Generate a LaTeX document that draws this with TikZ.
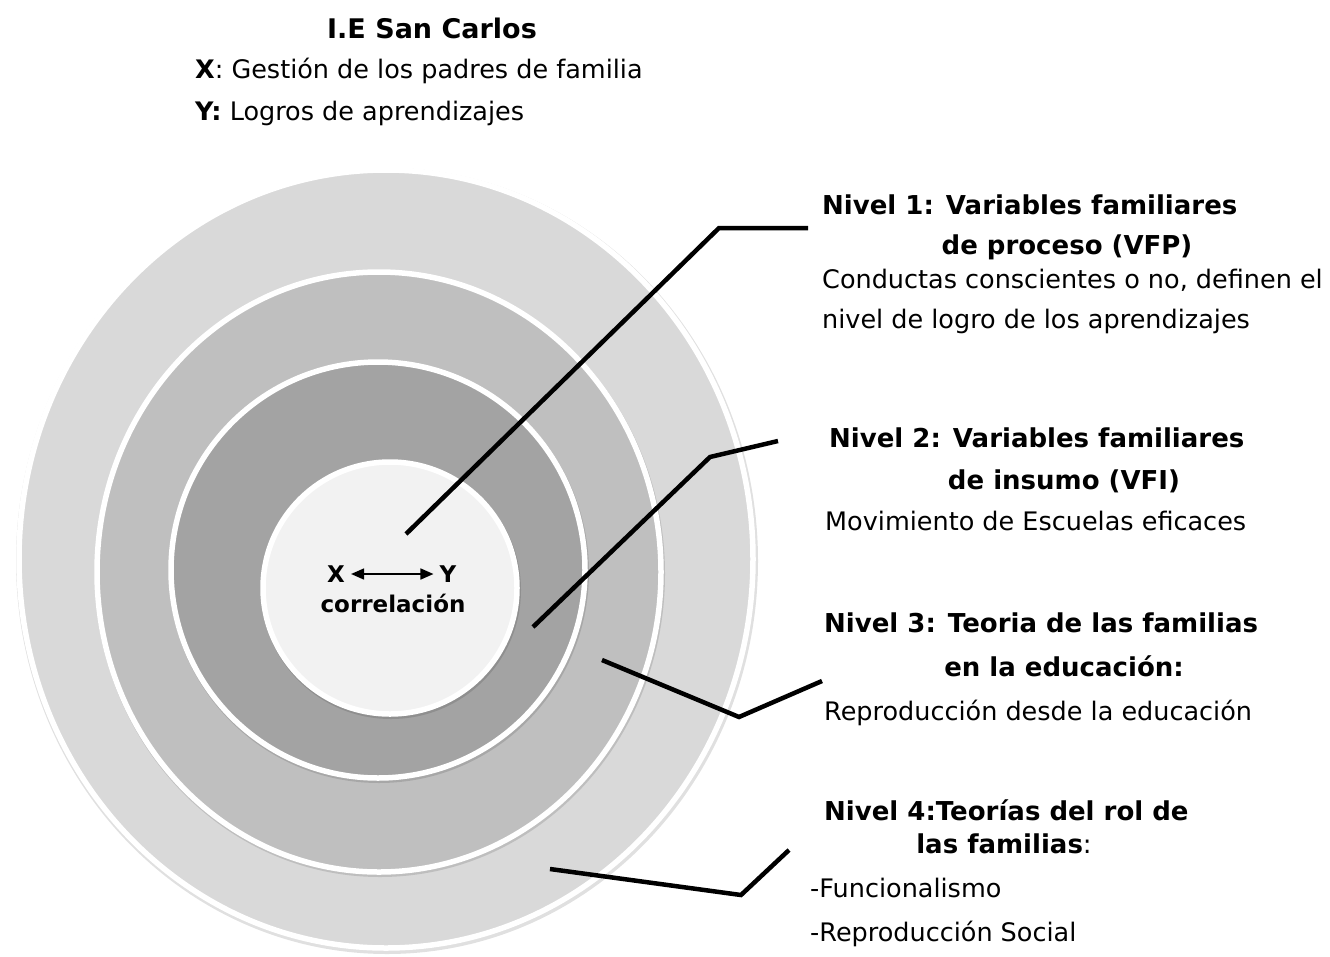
\documentclass[tikz,border=0pt]{standalone}
\usepackage{fontspec}
\setmainfont{DejaVu Sans}
\usetikzlibrary{arrows.meta}
\definecolor{ringA}{HTML}{D9D9D9}
\definecolor{ringB}{HTML}{BFBFBF}
\definecolor{ringC}{HTML}{A3A3A3}
\definecolor{ringD}{HTML}{F2F2F2}
\tikzset{
  ringfill/.style={draw=white, line width=5.5pt},
  ringshadow/.style={fill=black, opacity=0.12},
  leader/.style={line width=4.5pt, black, line join=miter, line cap=butt},
  reg/.style={anchor=base west, inner sep=0pt, font=\fontsize{25.5}{30}\selectfont},
  hd/.style={anchor=base west, inner sep=0pt, font=\fontsize{26}{30}\selectfont\bfseries},
  hdc/.style={anchor=base, inner sep=0pt, font=\fontsize{26}{30}\selectfont\bfseries},
  ctr/.style={anchor=base, inner sep=2pt, font=\fontsize{23}{28}\selectfont\bfseries},
  ctrxy/.style={anchor=base, inner sep=6pt, font=\fontsize{23}{28}\selectfont\bfseries}
}
\begin{document}
\begin{tikzpicture}[x=1pt,y=-1pt]
\useasboundingbox (0,0) rectangle (1330,956);
\fill[white] (0,0) rectangle (1330,956);

% rings
\fill[ringshadow] (387,561) ellipse [x radius=371, y radius=393];
\filldraw[ringfill, fill=ringA] (386,559) ellipse [x radius=367, y radius=389];
\fill[ringshadow] (380,574) ellipse [x radius=285, y radius=303];
\filldraw[ringfill, fill=ringB] (379,572) ellipse [x radius=282, y radius=300];
\fill[ringshadow] (379,572) ellipse [x radius=210, y radius=211];
\filldraw[ringfill, fill=ringC] (378,570) ellipse [x radius=207, y radius=208];
\fill[ringshadow] (391,590) ellipse [x radius=130, y radius=129];
\filldraw[ringfill, fill=ringD] (390,588) ellipse [x radius=127, y radius=126];

% title
\node[anchor=base, inner sep=0pt, font=\fontsize{27}{30}\selectfont\bfseries] (title) at (432,38) {I.E San Carlos};
\node[reg] (tx) at (195,78) {\textbf{X}: Gestión de los padres de familia};
\node[reg] (ty) at (195,120) {\textbf{Y:} Logros de aprendizajes};

% centre
\node[ctrxy] (cx) at (336,582) {X};
\node[ctrxy] (cy) at (448,582) {Y};
\draw[line width=1.6pt, {Triangle[length=13pt,width=11pt]}-{Triangle[length=13pt,width=11pt]}] (cx.east |- 0,574) -- (cy.west |- 0,574);
\node[ctr] (corr) at (393,612) {correlación};

% level texts
\node[hd] (n1a) at (822,214) {Nivel 1: Variables familiares};
\node[hdc] (n1b) at (1067,254) {de proceso (VFP)};
\node[reg] (n1c) at (822,288) {Conductas conscientes o no, definen el};
\node[reg] (n1d) at (822,328) {nivel de logro de los aprendizajes};

\node[hd] (n2a) at (829,447) {Nivel 2: Variables familiares};
\node[hdc] (n2b) at (1064,489) {de insumo (VFI)};
\node[reg] (n2c) at (825,530) {Movimiento de Escuelas eficaces};

\node[hd] (n3a) at (824,632) {Nivel 3: Teoria de las familias};
\node[hdc] (n3b) at (1064,676) {en la educación:};
\node[reg] (n3c) at (824,720) {Reproducción desde la educación};

\node[hd] (n4a) at (824,820) {Nivel 4:Teorías del rol de};
\node[hdc] (n4b) at (1004,853) {las familias\mdseries:};
\node[reg] (n4c) at (810,897) {-Funcionalismo};
\node[reg] (n4d) at (810,941) {-Reproducción Social};

% leader lines
\coordinate (a1) at (406,534);
\coordinate (b1) at (719,228);
\coordinate (c1) at (808,228);
\coordinate (a2) at (533,627);
\coordinate (b2) at (710,457);
\coordinate (c2) at (778,441);
\coordinate (a3) at (602,660);
\coordinate (b3) at (739,717);
\coordinate (c3) at (822,681);
\coordinate (a4) at (550,869);
\coordinate (b4) at (741,895);
\coordinate (c4) at (789,850);
\draw[leader] (a1) -- (b1) -- (c1);
\draw[leader] (a2) -- (b2) -- (c2);
\draw[leader] (a3) -- (b3) -- (c3);
\draw[leader] (a4) -- (b4) -- (c4);
\end{tikzpicture}
\end{document}
